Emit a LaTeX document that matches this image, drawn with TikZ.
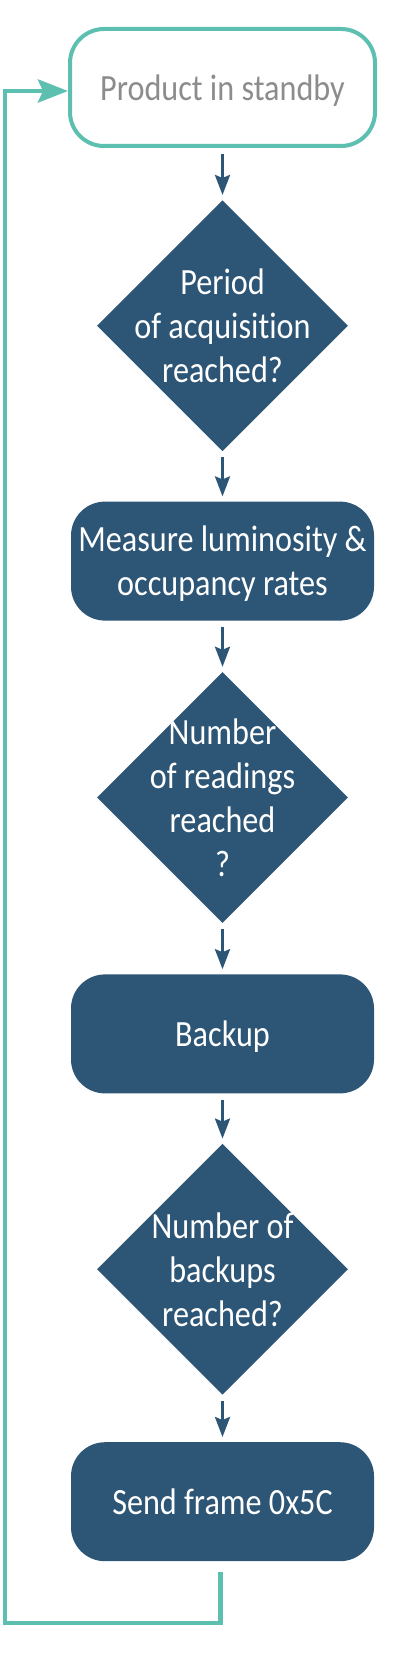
\documentclass[tikz,border=0pt]{standalone}
\usepackage{fontspec}
\setmainfont{Carlito}[FakeStretch=0.87,Ligatures=NoCommon]
\usetikzlibrary{positioning,shapes.geometric,arrows.meta}
\definecolor{xanhdam}{HTML}{2D5575}
\definecolor{xanhngoc}{HTML}{5DBFAF}
\definecolor{xam}{HTML}{8C8C8C}
\begin{document}
\begin{tikzpicture}[x=1pt,y=1pt,line join=miter,font=\fontsize{37}{44}\selectfont,node distance=50pt,
	start/.style={draw=xanhngoc,line width=4pt,rounded corners=34pt,minimum width=305pt,minimum height=117pt,text=xam,align=center,text depth=0pt},
	box/.style={fill=xanhdam,rounded corners=34pt,minimum width=303pt,minimum height=119pt,text=white,align=center,text depth=0pt},
	decision/.style={diamond,fill=xanhdam,minimum width=251pt,minimum height=251pt,inner sep=0pt},
	dtext/.style={text=white,align=center},
	flow/.style={-{Stealth[length=20pt,width=15pt,inset=3pt]},draw=xanhdam,line width=3pt,shorten <=6pt,shorten >=5pt},
	loopback/.style={-{Stealth[length=30pt,width=23pt,inset=5pt]},draw=xanhngoc,line width=4.5pt}]
	% Khung và các nút
	\useasboundingbox (0,0) rectangle (420,-1656);
	\node[start] (standby) at (222.5,-87.5) {Product in standby};
	\node[decision,below=52pt of standby,label={[dtext]center:{Period\\of acquisition\\reached?}}] (period) {};
	\node[box,below=of period] (measure) {Measure luminosity \&\\occupancy rates};
	\node[decision,below=51pt of measure,label={[dtext]center:{Number\\of readings\\reached\\?}}] (readings) {};
	\node[box,below=51pt of readings] (backup) {Backup};
	\node[decision,below=of backup,label={[dtext]center:{Number of\\backups\\reached?}}] (backups) {};
	\node[box,below=47pt of backups] (send) {Send frame 0x5C};
	\coordinate (goc) at (5,-1623);
	\draw[flow] (standby) -- (period);
	\draw[flow] (period) -- (measure);
	\draw[flow] (measure) -- (readings);
	\draw[flow] (readings) -- (backup);
	\draw[flow] (backup) -- (backups);
	\draw[flow] (backups) -- (send);
	\draw[loopback] ([xshift=-2pt,yshift=-11pt]send.south) |- (goc) |- ([yshift=-3.5pt]standby.west);
\end{tikzpicture}
\end{document}
